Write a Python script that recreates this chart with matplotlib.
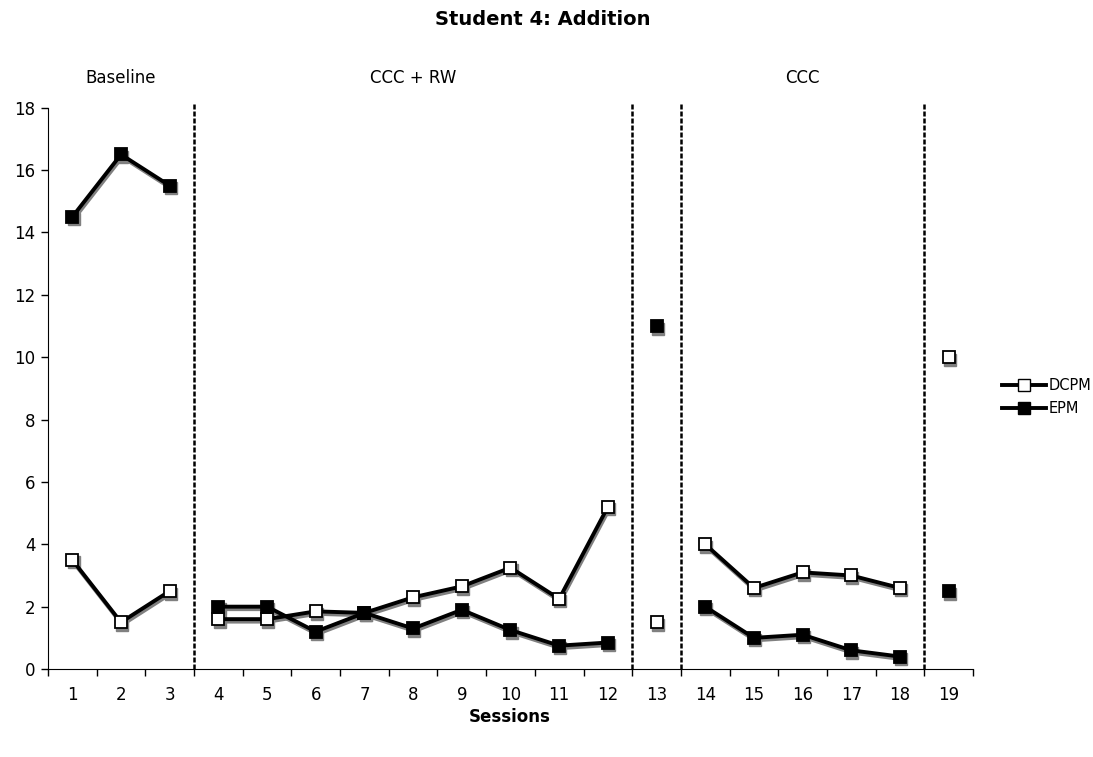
import numpy as np
import matplotlib
matplotlib.use("Agg")
import matplotlib.pyplot as plt
import matplotlib.transforms as mtransforms
from matplotlib.lines import Line2D

# sessions split into phases; lines are only joined inside a phase
phases = ["Baseline", "CCC + RW", "", "CCC", ""]
phase_sessions = [
    [1, 2, 3],
    [4, 5, 6, 7, 8, 9, 10, 11, 12],
    [13],
    [14, 15, 16, 17, 18],
    [19],
]
dcpm = [
    [3.5, 1.5, 2.5],
    [1.6, 1.6, 1.85, 1.8, 2.3, 2.65, 3.25, 2.25, 5.2],
    [1.5],
    [4.0, 2.6, 3.1, 3.0, 2.6],
    [10.0],
]
epm = [
    [14.5, 16.5, 15.5],
    [2.0, 2.0, 1.2, 1.8, 1.3, 1.9, 1.25, 0.75, 0.85],
    [11.0],
    [2.0, 1.0, 1.1, 0.6, 0.4],
    [2.5],
]
phase_lines = [3.5, 12.5, 13.5, 18.5]
yticks = [0, 2, 4, 6, 8, 10, 12, 14, 16, 18]

plt.rcParams["font.family"] = "DejaVu Sans"
plt.rcParams["font.size"] = 12

fig = plt.figure(figsize=(10.93, 7.57), dpi=100)
ax = fig.add_axes([0.0439, 0.1162, 0.8463, 0.7415])

# grey drop shadow: same data nudged right and down
shadow = ax.transData + mtransforms.ScaledTranslation(1.2 / 100, -2.5 / 100, fig.dpi_scale_trans)

for xs, d, e in zip(phase_sessions, dcpm, epm):
    for vals, face in ((d, "white"), (e, "black")):
        ax.plot(xs, vals, color="#808080", lw=2.8, marker="s", ms=9,
                mfc="#808080", mec="#808080", transform=shadow, zorder=2)
        ax.plot(xs, vals, color="black", lw=2.8, marker="s", ms=9,
                mfc=face, mec="black", mew=1.3, zorder=3)

for x in phase_lines:
    ax.axvline(x, color="black", lw=1.8, ls=(0, (2, 0.8)), ymin=0, ymax=1.006,
               clip_on=False, zorder=1)

ax.set_xlim(0.5, 19.5)
ax.set_ylim(0, 18)
ax.set_yticks(yticks)
ax.set_xticks(np.arange(1, 20))
ax.set_xticks(np.arange(0.5, 20, 1), minor=True)
ax.tick_params(axis="x", which="major", length=0, pad=12)
ax.tick_params(axis="x", which="minor", length=5, width=1, direction="out")
ax.tick_params(axis="y", length=5, width=1, direction="out", pad=4)
for s in ("top", "right"):
    ax.spines[s].set_visible(False)

# phase names centred over each phase
for name, xs in zip(phases, phase_sessions):
    if name:
        ax.text((xs[0] + xs[-1]) / 2, 18.95, name, ha="center", va="center")

fig.text(0.497, 0.974, "Student 4: Addition", ha="center", va="center",
         fontweight="bold", fontsize=14)
fig.text(0.466, 0.053, "Sessions", ha="center", va="center", fontweight="bold")

handles = [
    Line2D([], [], color="black", lw=2.8, marker="s", ms=9, mfc="white", mec="black"),
    Line2D([], [], color="black", lw=2.8, marker="s", ms=9, mfc="black", mec="black"),
]
fig.legend(handles, ["DCPM", "EPM"], loc="center left", bbox_to_anchor=(0.910, 0.476),
           frameon=False, fontsize=10.5, borderpad=0, handlelength=3.0,
           handletextpad=0.2, labelspacing=0.55)

fig.savefig("out.png", dpi=100)
